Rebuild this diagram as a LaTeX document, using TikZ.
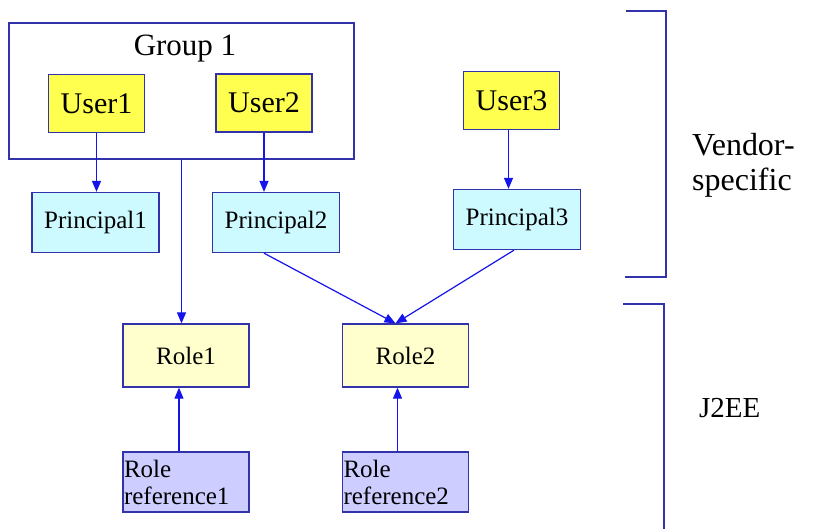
\documentclass[tikz,border=0pt]{standalone}
\usepackage{fontspec}
\setmainfont{Liberation Serif}
\usetikzlibrary{arrows.meta}
\definecolor{bordc}{RGB}{50,50,170}
\definecolor{arrc}{RGB}{20,20,235}
\definecolor{useryel}{RGB}{255,255,80}
\definecolor{princyan}{RGB}{205,250,255}
\definecolor{roleyel}{RGB}{255,255,205}
\definecolor{rrlav}{RGB}{205,205,255}
\tikzset{
  box/.style={draw=bordc, line width=1.3pt, inner sep=0pt},
  userbox/.style={box, fill=useryel, minimum width=96pt, minimum height=58pt, font=\fontsize{30}{34}\selectfont},
  princbox/.style={box, fill=princyan, minimum width=127pt, minimum height=60pt, font=\fontsize{25}{30}\selectfont},
  rolebox/.style={box, fill=roleyel, minimum width=126pt, minimum height=63pt, font=\fontsize{25}{30}\selectfont},
  rrbox/.style={box, fill=rrlav, minimum width=126pt, minimum height=60pt, text width=124pt, inner xsep=1pt, align=left, font=\fontsize{25}{27}\selectfont},
  conn/.style={draw=arrc, line width=1.2pt, -{Triangle[length=11pt,width=9pt]}},
  brk/.style={draw=bordc, line width=1.3pt}
}
\begin{document}
\begin{tikzpicture}[x=1pt,y=-1pt]
\useasboundingbox[fill=white] (0,0) rectangle (814,528);
% group
\node[box, minimum width=345pt, minimum height=136pt] (g1) at (181.5,91) {};
\node[font=\fontsize{31}{36}\selectfont, inner sep=0pt] (g1t) at (185,49) {Group 1};
\node[userbox] (u1) at (96.5,103.5) {User1};
\node[userbox] (u2) at (264,103) {User2};
\node[userbox] (u3) at (511.5,100.5) {User3};
\node[princbox] (p1) at (95.5,222.5) {Principal1};
\node[princbox] (p2) at (276,222.5) {Principal2};
\node[princbox] (p3) at (517,219.5) {Principal3};
\node[rolebox] (r1) at (186,355.5) {Role1};
\node[rolebox] (r2) at (405.5,355.5) {Role2};
\node[rrbox] (rr1) at (186,482) {Role\\reference1};
\node[rrbox] (rr2) at (405.5,482) {Role\\reference2};
% connectors
\draw[conn] (u1.south) -- (u1.south |- p1.north);
\draw[conn] (u2.south) -- (u2.south |- p2.north);
\draw[conn] ([xshift=-3pt]u3.south) -- ([xshift=-3pt]u3.south |- p3.north);
\draw[conn] (g1.south) -- (g1.south |- r1.north);
\coordinate (r2in) at ([xshift=-10pt]r2.north);
\draw[conn] (u2.south |- p2.south) -- (r2in);
\draw[conn] ([xshift=-3pt]p3.south) -- (r2in);
\draw[conn] ([xshift=-7pt]rr1.north) -- ([xshift=-7pt]r1.south);
\draw[conn] ([xshift=-8pt]rr2.north) -- ([xshift=-8pt]r2.south);
% brackets
\coordinate (b1a) at (626,11);
\coordinate (b1b) at (666,11);
\coordinate (b1c) at (666,277);
\coordinate (b1d) at (625,277);
\draw[brk] (b1a) -- (b1b) -- (b1c) -- (b1d);
\coordinate (b2a) at (623,304);
\coordinate (b2b) at (664,304);
\coordinate (b2c) at (664,530);
\draw[brk] (b2a) -- (b2b) -- (b2c);
\node[anchor=west, align=left, inner sep=0pt, font=\fontsize{32}{35}\selectfont] (vs) at (692,165) {Vendor-\\specific};
\node[anchor=west, inner sep=0pt, font=\fontsize{29}{34}\selectfont] (j2) at (699,408) {J2EE};
\end{tikzpicture}
\end{document}
